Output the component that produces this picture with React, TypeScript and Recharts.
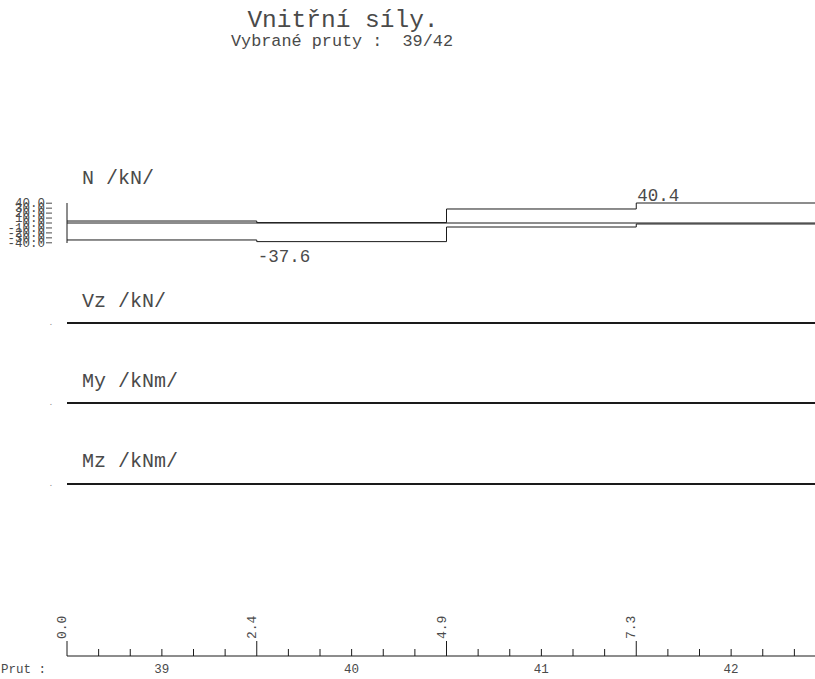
import React from "react";
import { LineChart, Line, XAxis, YAxis, ReferenceLine } from "recharts";

// members and their stations along the beam (m)
const members = [39, 40, 41, 42];
const stations = [0, 2.45, 4.9, 7.35, 9.8];
const stationLabels = ["0.0", "2.4", "4.9", "7.3", "9.8"];

// axial force envelope per member (kN)
const nUpper = [4.0, 0.8, 28.3, 40.4];
const nLower = [-34.3, -37.6, -8.1, -2.0];
const nTicks = [40, 30, 20, 10, 0, -10, -20, -30, -40];

// shear and moments per member
const vz = [0, 0, 0, 0];
const my = [0, 0, 0, 0];
const mz = [0, 0, 0, 0];

const FONT = '"Liberation Mono", "Courier New", monospace';
const TEXT = "#4a4a4a";
const INK = "#1a1a1a";
const CHART_W = 830;
const AXIS_W = 67;
const X_MAX = stations[stations.length - 1];

// one row per station, each member's value held until the next station
const toRows = (series: Record<string, number[]>) =>
  stations.map((x, i) => {
    const row: Record<string, number> = { x };
    Object.entries(series).forEach(([key, vals]) => {
      row[key] = vals[Math.min(i, vals.length - 1)];
    });
    return row;
  });

const nRows = toRows({ upper: nUpper, lower: nLower });

// six divisions per member on the bottom scale
const scaleTicks = stations
  .slice(0, -1)
  .flatMap((s, i) =>
    Array.from({ length: 6 }, (_, k) => s + ((stations[i + 1] - s) * k) / 6),
  )
  .concat(X_MAX);

const NTick = (props: any) => {
  const { x, y, payload } = props;
  return (
    <g>
      <line x1={x - 21} x2={x - 15} y1={y} y2={y} stroke={TEXT} strokeWidth={1} />
      <text x={x - 22} y={y + 4} textAnchor="end" fontSize={12.5} fontFamily={FONT} fill={TEXT}>
        {Number(payload.value).toFixed(1)}
      </text>
    </g>
  );
};

const ZeroTick = (props: any) => {
  const { x, y } = props;
  return (
    <text x={x - 16} y={y + 2} textAnchor="middle" fontSize={8} fontFamily={FONT} fill="#888">
      .
    </text>
  );
};

const ScaleTick = (props: any) => {
  const { x, y, index } = props;
  const major = index % 6 === 0;
  const center = index % 6 === 3;
  const st = index / 6;
  return (
    <g>
      <line x1={x} x2={x} y1={y} y2={y - (major ? 15 : 7)} stroke={INK} strokeWidth={1} />
      {major && (
        <text
          x={x - 1}
          y={y - 17}
          transform={`rotate(-90 ${x - 1} ${y - 17})`}
          fontSize={13}
          fontFamily={FONT}
          fill={TEXT}
        >
          {stationLabels[st]}
        </text>
      )}
      {center && (
        <text x={x} y={y + 17} textAnchor="middle" fontSize={12.5} fontFamily={FONT} fill={TEXT}>
          {members[Math.floor(index / 6)]}
        </text>
      )}
    </g>
  );
};

const peakLabel = (target: number, dy: number) => (props: any) => {
  const { x, y, value, index } = props;
  const first = nRows.findIndex((r) => r.upper === target || r.lower === target);
  if (value !== target || index !== first) return null;
  return (
    <text x={x + 1} y={y + dy} fontSize={17.5} fontFamily={FONT} fill={TEXT}>
      {Number(value).toFixed(1)}
    </text>
  );
};

// flat diagram: plot band is 20px tall, zero sits in its middle
const FlatPanel = ({ lineY, values }: { lineY: number; values: number[] }) => (
  <div style={{ position: "absolute", left: 0, top: lineY - 20 }}>
    <LineChart
      width={CHART_W}
      height={40}
      data={toRows({ v: values })}
      margin={{ top: 10, right: 4, bottom: 10, left: 0 }}
    >
      <XAxis dataKey="x" type="number" domain={[0, X_MAX]} hide />
      <YAxis
        type="number"
        domain={[-1, 1]}
        ticks={[0]}
        width={AXIS_W}
        axisLine={false}
        tickLine={false}
        tickSize={0}
        tickMargin={0}
        tick={<ZeroTick />}
      />
      <Line
        type="stepAfter"
        dataKey="v"
        stroke={INK}
        strokeWidth={2}
        dot={false}
        isAnimationActive={false}
      />
    </LineChart>
  </div>
);

export default function App() {
  return (
    <div
      style={{
        position: "absolute",
        left: 0,
        top: 0,
        width: 815,
        height: 679,
        overflow: "hidden",
        background: "#fff",
        fontFamily: FONT,
      }}
    >
      <svg width={815} height={679} style={{ position: "absolute", left: 0, top: 0 }}>
        <text x={343} y={27} textAnchor="middle" fontSize={24.5} fontFamily={FONT} fill={TEXT}>
          Vnitřní síly.
        </text>
        <text x={231} y={46} fontSize={16.8} fontFamily={FONT} fill={TEXT} textLength={222} lengthAdjust="spacingAndGlyphs" style={{ whiteSpace: "pre" }}>
          {"Vybrané pruty :  39/42"}
        </text>
        <text x={82} y={184} fontSize={20} fontFamily={FONT} fill={TEXT}>N /kN/</text>
        <text x={82} y={307} fontSize={20} fontFamily={FONT} fill={TEXT}>Vz /kN/</text>
        <text x={82} y={387} fontSize={20} fontFamily={FONT} fill={TEXT}>My /kNm/</text>
        <text x={82} y={467} fontSize={20} fontFamily={FONT} fill={TEXT}>Mz /kNm/</text>
        <text x={1} y={673} fontSize={12.5} fontFamily={FONT} fill={TEXT}>Prut :</text>
      </svg>

      <div style={{ position: "absolute", left: 0, top: 180 }}>
        <LineChart
          width={CHART_W}
          height={90}
          data={nRows}
          margin={{ top: 23, right: 4, bottom: 27, left: 0 }}
        >
          <XAxis dataKey="x" type="number" domain={[0, X_MAX]} hide />
          <YAxis
            type="number"
            domain={[-40.4, 40.4]}
            ticks={nTicks}
            interval={0}
            width={AXIS_W}
            axisLine={{ stroke: INK }}
            tickLine={false}
            tickSize={0}
            tickMargin={0}
            tick={<NTick />}
          />
          <ReferenceLine y={0} stroke={INK} strokeWidth={1} />
          <Line
            type="stepAfter"
            dataKey="upper"
            stroke={INK}
            strokeWidth={1}
            dot={false}
            isAnimationActive={false}
            label={peakLabel(Math.max(...nUpper), -2)}
          />
          <Line
            type="stepAfter"
            dataKey="lower"
            stroke={INK}
            strokeWidth={1}
            dot={false}
            isAnimationActive={false}
            label={peakLabel(Math.min(...nLower), 20)}
          />
        </LineChart>
      </div>

      <FlatPanel lineY={323} values={vz} />
      <FlatPanel lineY={403} values={my} />
      <FlatPanel lineY={484} values={mz} />

      <div style={{ position: "absolute", left: 0, top: 600 }}>
        <LineChart
          width={CHART_W}
          height={79}
          data={toRows({ v: vz })}
          margin={{ top: 20, right: 4, bottom: 3, left: AXIS_W }}
        >
          <XAxis
            dataKey="x"
            type="number"
            domain={[0, X_MAX]}
            ticks={scaleTicks}
            interval={0}
            height={20}
            axisLine={{ stroke: INK }}
            tickLine={false}
            tickSize={0}
            tickMargin={0}
            tick={<ScaleTick />}
          />
          <YAxis hide domain={[-1, 1]} />
          <Line dataKey="v" stroke="none" dot={false} isAnimationActive={false} />
        </LineChart>
      </div>
    </div>
  );
}
